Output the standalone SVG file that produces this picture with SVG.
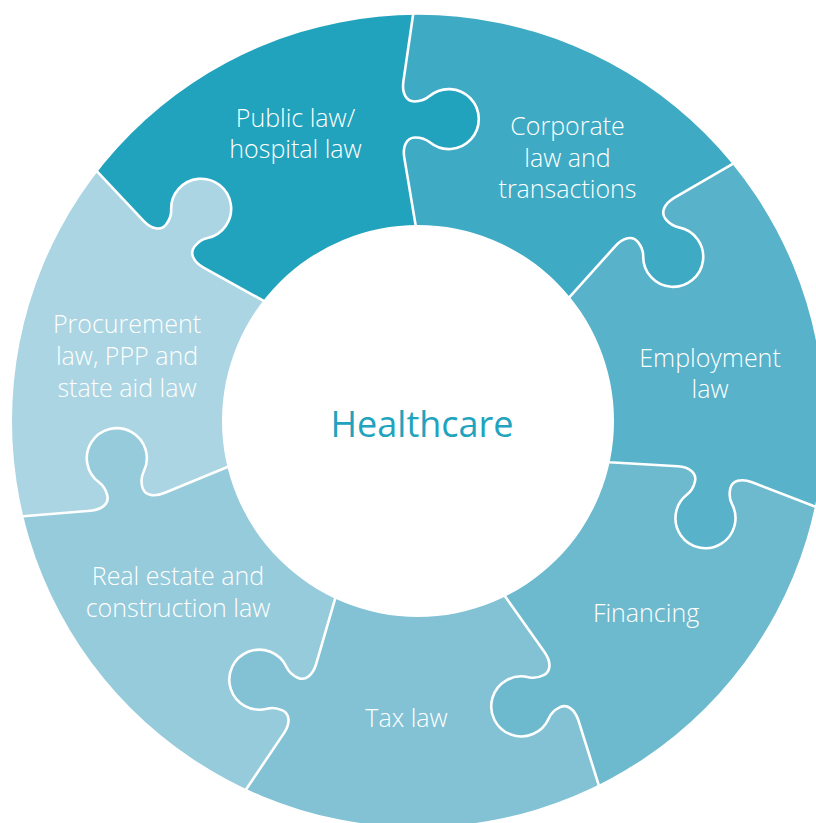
<svg xmlns="http://www.w3.org/2000/svg" xmlns:xlink="http://www.w3.org/1999/xlink" width="816" height="823" viewBox="0 0 816 823">
<style>
.lbl{font-family:"Open Sans","Noto Sans","Liberation Sans",sans-serif;font-weight:300;font-size:25px;fill:#ffffff;text-anchor:middle}
.ctr{font-family:"Open Sans","Noto Sans","Liberation Sans",sans-serif;font-weight:400;font-size:36px;fill:#21a3bd;text-anchor:middle}
.seam{fill:none;stroke:#ffffff;stroke-width:2.6;stroke-linejoin:round}
</style>
<defs>
<path id="ring" fill-rule="evenodd" d="M12,421 A406,406 0 1 0 824,421 A406,406 0 1 0 12,421 Z M222,421 A196,196 0 1 0 614,421 A196,196 0 1 0 222,421 Z"/>
<path id="halfL" d="M418,-500 L418,15 L407.5,81.5 C405.8,93 410,101.5 418.5,101.5 C424.5,101.5 429.4,99.7 433.2,96.5 A30,30 0 1 1 433.2,142.5 C429.4,139.3 424.5,137.5 418.5,137.5 C410,137.5 405.8,146 407.5,157.5 L418,225 L418,1400 L-1500,1400 L-1500,-500 Z"/>
<path id="halfR" d="M418,-500 L418,15 L407.5,81.5 C405.8,93 410,101.5 418.5,101.5 C424.5,101.5 429.4,99.7 433.2,96.5 A30,30 0 1 1 433.2,142.5 C429.4,139.3 424.5,137.5 418.5,137.5 C410,137.5 405.8,146 407.5,157.5 L418,225 L418,1400 L2400,1400 L2400,-500 Z"/>
<path id="seamLine" d="M418,6 L418,15 L407.5,81.5 C405.8,93 410,101.5 418.5,101.5 C424.5,101.5 429.4,99.7 433.2,96.5 A30,30 0 1 1 433.2,142.5 C429.4,139.3 424.5,137.5 418.5,137.5 C410,137.5 405.8,146 407.5,157.5 L418,225 L418,234"/>
<clipPath id="L0"><use xlink:href="#halfL" transform="rotate(-0.7 418 421)"/></clipPath>
<clipPath id="L1"><use xlink:href="#halfL" transform="rotate(50.73 418 421)"/></clipPath>
<clipPath id="L2"><use xlink:href="#halfL" transform="rotate(102.16 418 421)"/></clipPath>
<clipPath id="L3"><use xlink:href="#halfL" transform="rotate(153.59 418 421)"/></clipPath>
<clipPath id="L4"><use xlink:href="#halfL" transform="rotate(205.01 418 421)"/></clipPath>
<clipPath id="L5"><use xlink:href="#halfL" transform="rotate(256.44 418 421)"/></clipPath>
<clipPath id="L6"><use xlink:href="#halfL" transform="rotate(307.87 418 421)"/></clipPath>
<clipPath id="R0"><use xlink:href="#halfR" transform="rotate(-0.7 418 421)"/></clipPath>
<clipPath id="R1"><use xlink:href="#halfR" transform="rotate(50.73 418 421)"/></clipPath>
<clipPath id="R2"><use xlink:href="#halfR" transform="rotate(102.16 418 421)"/></clipPath>
<clipPath id="R3"><use xlink:href="#halfR" transform="rotate(153.59 418 421)"/></clipPath>
<clipPath id="R4"><use xlink:href="#halfR" transform="rotate(205.01 418 421)"/></clipPath>
<clipPath id="R5"><use xlink:href="#halfR" transform="rotate(256.44 418 421)"/></clipPath>
<clipPath id="R6"><use xlink:href="#halfR" transform="rotate(307.87 418 421)"/></clipPath>
</defs>
<rect width="816" height="823" fill="#ffffff"/>

<g id="public-law">
<g clip-path="url(#R6)"><use xlink:href="#ring" fill="#21a3bd" clip-path="url(#L0)"/></g>
<text class="lbl" x="295.5" y="127">Public law/</text>
<text class="lbl" x="295.5" y="158">hospital law</text>
</g>
<g id="corporate-law">
<g clip-path="url(#R0)"><use xlink:href="#ring" fill="#3eaac4" clip-path="url(#L1)"/></g>
<text class="lbl" x="567.5" y="135">Corporate</text>
<text class="lbl" x="567.5" y="166.5">law and</text>
<text class="lbl" x="567.5" y="198">transactions</text>
</g>
<g id="employment-law">
<g clip-path="url(#R1)"><use xlink:href="#ring" fill="#57b2ca" clip-path="url(#L2)"/></g>
<text class="lbl" x="710" y="367">Employment</text>
<text class="lbl" x="710" y="398">law</text>
</g>
<g id="financing">
<g clip-path="url(#R2)"><use xlink:href="#ring" fill="#6dbace" clip-path="url(#L3)"/></g>
<text class="lbl" x="646" y="622">Financing</text>
</g>
<g id="tax-law">
<g clip-path="url(#R3)"><use xlink:href="#ring" fill="#82c2d4" clip-path="url(#L4)"/></g>
<text class="lbl" x="406.5" y="727">Tax law</text>
</g>
<g id="real-estate">
<g clip-path="url(#R4)"><use xlink:href="#ring" fill="#95cbdb" clip-path="url(#L5)"/></g>
<text class="lbl" x="178" y="585">Real estate and</text>
<text class="lbl" x="178" y="617">construction law</text>
</g>
<g id="procurement">
<g clip-path="url(#R5)"><use xlink:href="#ring" fill="#abd5e3" clip-path="url(#L6)"/></g>
<text class="lbl" x="127" y="333">Procurement</text>
<text class="lbl" x="127" y="365">law, PPP and</text>
<text class="lbl" x="127" y="397">state aid law</text>
</g>

<g id="seams">
<use class="seam" xlink:href="#seamLine" transform="rotate(-0.7 418 421)"/>
<use class="seam" xlink:href="#seamLine" transform="rotate(50.73 418 421)"/>
<use class="seam" xlink:href="#seamLine" transform="rotate(102.16 418 421)"/>
<use class="seam" xlink:href="#seamLine" transform="rotate(153.59 418 421)"/>
<use class="seam" xlink:href="#seamLine" transform="rotate(205.01 418 421)"/>
<use class="seam" xlink:href="#seamLine" transform="rotate(256.44 418 421)"/>
<use class="seam" xlink:href="#seamLine" transform="rotate(307.87 418 421)"/>
</g>

<g id="healthcare">
<text class="ctr" x="422" y="437">Healthcare</text>
</g>
</svg>
